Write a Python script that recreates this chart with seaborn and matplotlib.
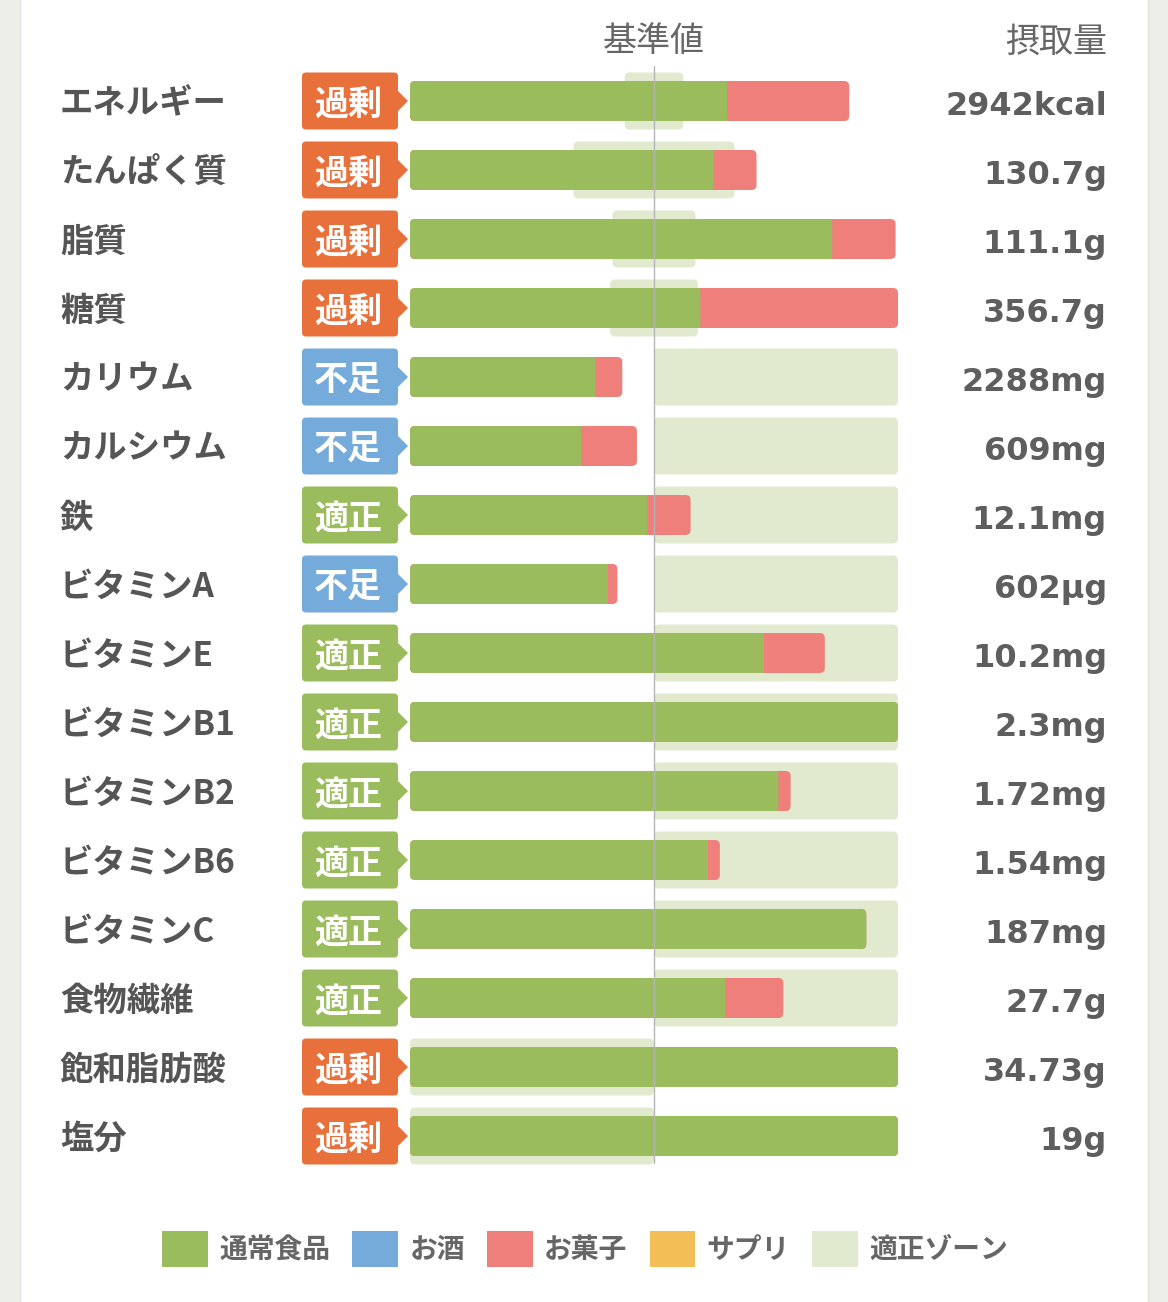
import matplotlib
matplotlib.use("Agg")
import matplotlib.pyplot as plt
import seaborn as sns
import pandas as pd
from matplotlib.patches import FancyBboxPatch, Polygon, Patch, Rectangle

# --- data (percent of the standard value, capped at 200) ---
nutrients = ["エネルギー", "たんぱく質", "脂質", "糖質", "カリウム", "カルシウム", "鉄",
             "ビタミンA", "ビタミンE", "ビタミンB1", "ビタミンB2", "ビタミンB6",
             "ビタミンC", "食物繊維", "飽和脂肪酸", "塩分"]
status = ["過剰", "過剰", "過剰", "過剰", "不足", "不足", "適正", "不足",
          "適正", "適正", "適正", "適正", "適正", "適正", "過剰", "過剰"]
intake = ["2942kcal", "130.7g", "111.1g", "356.7g", "2288mg", "609mg", "12.1mg", "602µg",
          "10.2mg", "2.3mg", "1.72mg", "1.54mg", "187mg", "27.7g", "34.73g", "19g"]
food_pct = [130, 124, 173, 119, 76, 70, 97, 81, 145, 200, 151, 122, 187, 129, 200, 200]
snack_pct = [50, 18, 26, 81, 11, 23, 18, 4, 25, 0, 5, 5, 0, 24, 0, 0]
zone_lo = [88, 67, 83, 82, 100, 100, 100, 100, 100, 100, 100, 100, 100, 100, 0, 0]
zone_hi = [112, 133, 117, 118, 200, 200, 200, 200, 200, 200, 200, 200, 200, 200, 100, 100]
legend_labels = ["通常食品", "お酒", "お菓子", "サプリ", "適正ゾーン"]

# --- colours ---
GREEN = "#9BBC5D"
BLUE = "#74ABDB"
PINK = "#EE7F7B"
YELLOW = "#F3BE56"
ZONE = "#E1EACF"
ORANGE = "#E8703B"
badge_colors = {"過剰": ORANGE, "不足": BLUE, "適正": GREEN}
TEXT = "#555555"

df = pd.DataFrame({"nutrient": nutrients, "food": food_pct, "snack": snack_pct})
df["total"] = df["food"] + df["snack"]

sns.set_theme(style="white")
plt.rcParams["font.family"] = ["Noto Sans CJK JP", "DejaVu Sans"]

W, H = 1168, 1302
fig = plt.figure(figsize=(W / 100, H / 100), dpi=100, facecolor="#EEEEE8")
fig.patches.append(Rectangle((20 / W, -0.01), 1128 / W, 1.02, transform=fig.transFigure,
                             facecolor="white", edgecolor="#E2E2DC", lw=1, zorder=-5))
ax = fig.add_axes([0, 0, 1, 1])
ax.set_facecolor("none")

# pixel mapping: x=0 at 410px, x=200 at 898px; rows at 101 + 69*i px
px_per_x = 488 / 200
row_px = 69
def X(p):
    return (p - 410) / px_per_x
def Y(p):
    return (p - 101) / row_px

rad = 5 / px_per_x
asp = (5 / row_px) / rad

def round_container(container, zorder, r=rad):
    for rect in container:
        x, y, w, h = rect.get_x(), rect.get_y(), rect.get_width(), rect.get_height()
        fc = rect.get_facecolor()
        rect.remove()
        if w <= 0:
            continue
        ax.add_patch(FancyBboxPatch((x, y), w, h, boxstyle=f"round,pad=0,rounding_size={r}",
                                    mutation_aspect=asp, facecolor=fc, edgecolor="none",
                                    zorder=zorder))

# zone band
zones = ax.barh(range(len(nutrients)), [h - l for l, h in zip(zone_lo, zone_hi)],
                left=zone_lo, height=57 / row_px, color=ZONE)
round_container(zones, 1)

# snack (stacked total) then food on top
sns.barplot(data=df, x="total", y="nutrient", orient="h", color=PINK, width=40 / row_px,
            saturation=1, ax=ax)
round_container(list(ax.containers[-1]), 2)
sns.barplot(data=df, x="food", y="nutrient", orient="h", color=GREEN, width=40 / row_px,
            saturation=1, ax=ax)
food_bars = list(ax.containers[-1])
geo = [(r.get_x(), r.get_y(), r.get_width(), r.get_height()) for r in food_bars]
round_container(food_bars, 3)
# square off the green end where the pink part continues
for (x, y, w, h), s in zip(geo, snack_pct):
    if s > 0:
        ax.add_patch(Rectangle((x + w - rad, y), rad, h, facecolor=GREEN, edgecolor="none", zorder=3))

# reference line
ax.plot([100, 100], [Y(66), Y(1163)], color="#B5B5B5", lw=1, zorder=4)

# badges, labels, values
bh = 57 / row_px
dy = 3 / row_px
for i, (name, st, val) in enumerate(zip(nutrients, status, intake)):
    c = badge_colors[st]
    ax.add_patch(FancyBboxPatch((X(302), i - bh / 2), X(398) - X(302), bh,
                                boxstyle=f"round,pad=0,rounding_size={4 / px_per_x}",
                                mutation_aspect=(4 / row_px) / (4 / px_per_x),
                                facecolor=c, edgecolor="none", zorder=5))
    ax.add_patch(Polygon([(X(397), i - 0.16), (X(408), i), (X(397), i + 0.16)],
                         closed=True, facecolor=c, edgecolor="none", zorder=5))
    ax.text(X(348), i + dy, st, ha="center", va="center", color="white", fontsize=24.5,
            fontweight="bold", zorder=6)
    ax.text(X(60), i + dy, name, ha="left", va="center", color=TEXT, fontsize=24,
            fontweight="bold")
    ax.text(X(1107), i + 14 / row_px, val, ha="right", va="baseline", color="#5E5E5E",
            fontsize=23, fontweight="bold", family=["DejaVu Sans"])

ax.text(100, Y(42), "基準値", ha="center", va="center", color="#666666", fontsize=24.5)
ax.text(X(1107), Y(42), "摂取量", ha="right", va="center", color="#666666", fontsize=24.5)

ax.set_xlim(X(0), X(W))
ax.set_ylim(Y(H), Y(0))
ax.set_axis_off()

# legend
handles = [Patch(facecolor=c, edgecolor="none") for c in [GREEN, BLUE, PINK, YELLOW, ZONE]]
leg = fig.legend(handles, legend_labels, loc="center", bbox_to_anchor=(585 / W, 1 - 1249 / H),
                 ncol=5, frameon=False, handlelength=1.65, handleheight=1.65,
                 handletextpad=0.4, columnspacing=0.8, labelcolor="#666666",
                 prop={"weight": "bold", "size": 20})

fig.savefig("out.png", dpi=100, facecolor=fig.get_facecolor())
